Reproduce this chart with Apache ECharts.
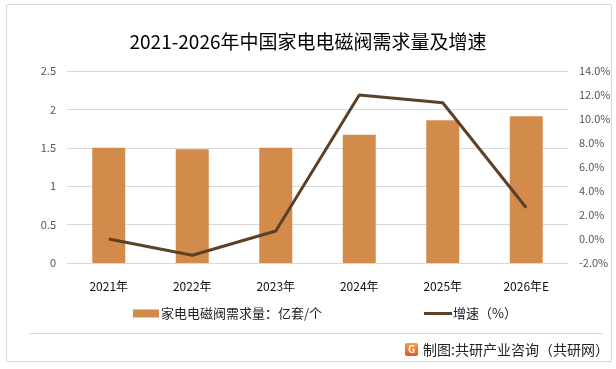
<!DOCTYPE html>
<html><head><meta charset="utf-8">
<script src="https://cdn.jsdelivr.net/npm/echarts@6/dist/echarts.min.js"></script>
<style>html,body{margin:0;padding:0;background:#fff}#c{width:616px;height:369px}</style>
</head><body><div id="c"></div>
<script>
const categories = ['2021年','2022年','2023年','2024年','2025年','2026年E'];
const demand = [1.5, 1.48, 1.5, 1.67, 1.86, 1.91];
const growth = [0.0, -1.35, 0.67, 12.0, 11.35, 2.6];
const leftTicks = [0, 0.5, 1, 1.5, 2, 2.5];
const rightTicks = [-2, 0, 2, 4, 6, 8, 10, 12, 14];

const chart = echarts.init(document.getElementById('c'), null, {renderer:'canvas'});
const font = '"Microsoft YaHei","Noto Sans CJK SC",sans-serif';
const barName = '家电电磁阀需求量：亿套/个';
const lineName = '增速（%）';
chart.setOption({
  animation:false,
  title:{text:'2021-2026年中国家电电磁阀需求量及增速', left:'center', top:27,
    textStyle:{fontFamily:font, fontSize:19, fontWeight:'normal', color:'#000'}},
  grid:{left:67, right:48, top:71, bottom:106, containLabel:false},
  legend:[
    {top:307, left:133, padding:0, itemWidth:26, itemHeight:8,
     textStyle:{fontFamily:font, fontSize:13, color:'#222', padding:[0,0,0,-3]},
     data:[{name:barName, icon:'rect'}]},
    {top:307, left:424, padding:0, itemWidth:28, itemHeight:8,
     textStyle:{fontFamily:font, fontSize:13, color:'#222', padding:[0,0,0,-4]},
     data:[{name:lineName, icon:'path://M0,0L0.01,0ZM0,2.6H28V5.4H0ZM0,8L0.01,8Z'}]}
  ],
  xAxis:{type:'category', data:categories,
    axisLine:{show:false}, axisTick:{show:false},
    axisLabel:{fontFamily:font, fontSize:12, color:'#111', margin:17}},
  yAxis:[
    {type:'value', min:leftTicks[0], max:leftTicks[leftTicks.length-1], interval:0.5,
     axisLine:{show:false}, axisTick:{show:false},
     axisLabel:{fontFamily:font, fontSize:11, color:'#555', margin:11},
     splitLine:{lineStyle:{color:'#d9d9d9', width:1}}},
    {type:'value', min:rightTicks[0], max:rightTicks[rightTicks.length-1], interval:2,
     axisLine:{show:false}, axisTick:{show:false}, splitLine:{show:false},
     axisLabel:{fontFamily:font, fontSize:11, color:'#555', margin:11,
       formatter:v=>v.toFixed(1)+'%'}}
  ],
  series:[
    {name:barName, type:'bar', data:demand, barWidth:33,
     itemStyle:{color:'#d38b4c'}},
    {name:lineName, type:'line', yAxisIndex:1, data:growth, symbol:'none',
     lineStyle:{color:'#5c4129', width:3}, itemStyle:{color:'#5c4129'}}
  ],
  graphic:[
    {type:'rect', shape:{x:6.5,y:4.5,width:605,height:357}, style:{fill:'none', stroke:'#d9d9d9', lineWidth:1}, silent:true},
    {type:'line', shape:{x1:29,y1:333.5,x2:603,y2:333.5}, style:{stroke:'#d9d9d9', lineWidth:1}, silent:true},
    {type:'rect', shape:{x:405,y:343,width:13,height:13,r:2}, style:{fill:{type:'linear',x:0,y:0,x2:0,y2:1,colorStops:[{offset:0,color:'#f7a23b'},{offset:1,color:'#e9502a'}]}}},
    {type:'text', x:411.5, y:349.5, style:{text:'G', fill:'#fff', fontSize:10, fontWeight:'bold', fontFamily:font, align:'center', verticalAlign:'middle'}},
    {type:'text', x:423, y:349.5, style:{text:'制图:共研产业咨询（共研网）', fill:'#222', fontSize:14, fontFamily:font, verticalAlign:'middle'}}
  ]
});
</script></body></html>
